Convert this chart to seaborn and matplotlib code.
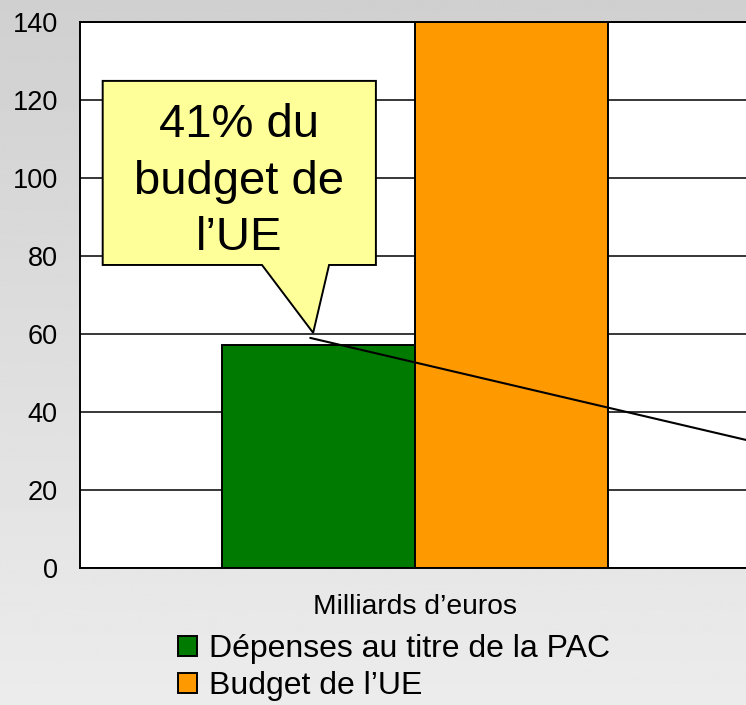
import numpy as np
import pandas as pd
import matplotlib
matplotlib.use("Agg")
import matplotlib.pyplot as plt
import seaborn as sns
from matplotlib.patches import Polygon

# ---- data ----
categories = ["Milliards d\u2019euros"]
series = ["D\u00e9penses au titre de la PAC", "Budget de l\u2019UE"]
values = [57.3, 140.0]
colors = ["#007A00", "#FF9900"]
yticks = [0, 20, 40, 60, 80, 100, 120, 140]
callout_text = "41% du\nbudget de\nl\u2019UE"

df = pd.DataFrame({"cat": categories * len(series), "serie": series, "val": values})

sns.set_theme(style="white")
plt.rcParams["font.family"] = ["Liberation Sans", "DejaVu Sans"]
plt.rcParams["text.color"] = "black"
plt.rcParams["axes.labelcolor"] = "black"

W, H = 746, 705
fig = plt.figure(figsize=(W / 100, H / 100), dpi=100)

# background gradient
bg = fig.add_axes([0, 0, 1, 1], zorder=-10)
grad = np.linspace(0.815, 0.925, 256).reshape(-1, 1)
bg.imshow(grad, aspect="auto", cmap="gray", vmin=0, vmax=1, extent=[0, 1, 0, 1], origin="upper")
bg.set_axis_off()

# plot axes (right edge runs past the figure)
left_px, right_px, top_px, bot_px = 80, 750, 22, 568
ax = fig.add_axes([left_px / W, (H - bot_px) / H, (right_px - left_px) / W, (bot_px - top_px) / H])
ax.set_facecolor("white")

sns.barplot(data=df, x="cat", y="val", hue="serie", palette=colors,
            edgecolor="black", linewidth=1.4, ax=ax, saturation=1, width=0.8)

ax.set_ylim(0, 140)
ax.set_xlim(-0.694, 0.694)
ax.set_yticks(yticks)
ax.set_yticklabels([str(t) for t in yticks], fontsize=19.5)
ax.tick_params(axis="y", length=0, pad=16, colors="black")
ax.set_axisbelow(True)
ax.yaxis.grid(True, color="black", linewidth=1.1)
ax.xaxis.grid(False)
ax.set_xticks([-0.694])
ax.set_xticklabels([""])
ax.tick_params(axis="x", length=5, width=1.4, direction="out", colors="black")
ax.set_xlabel(categories[0], fontsize=20.3, labelpad=10, color="black")
ax.set_ylabel("")
for s in ["left", "bottom", "top"]:
    ax.spines[s].set_visible(True)
    ax.spines[s].set_color("black")
    ax.spines[s].set_linewidth(1.4)
ax.spines["right"].set_visible(False)

handles, labels = ax.get_legend_handles_labels()
ax.get_legend().remove()
leg = fig.legend(handles, labels, loc="upper left", bbox_to_anchor=(178 / W, (H - 634) / H),
                 frameon=False, fontsize=23, handlelength=0.6, handleheight=0.6,
                 handletextpad=0.38, labelspacing=0.22, borderpad=0, borderaxespad=0)
for t in leg.get_texts():
    t.set_color("black")

# callout (anchored on the green bar)
tip_x, tip_y = -0.211, 60.3
box_l, box_r, box_t, box_b = -0.647, -0.081, 124.9, 77.7
base_l, base_r = -0.317, -0.178
poly = Polygon([(box_l, box_t), (box_r, box_t), (box_r, box_b), (base_r, box_b),
                (tip_x, tip_y), (base_l, box_b), (box_l, box_b)],
               closed=True, facecolor="#FFFF99", edgecolor="black", linewidth=1.4, zorder=5)
ax.add_patch(poly)
ax.text((box_l + box_r) / 2, (box_t + box_b) / 2 - 2.3, callout_text, ha="center", va="center",
        fontsize=34, linespacing=1.37, color="black", zorder=6)
ax.plot([-0.217, 0.694], [59.0, 32.6], color="black", linewidth=1.5, zorder=7, clip_on=False)

fig.savefig("out.png", dpi=100)
